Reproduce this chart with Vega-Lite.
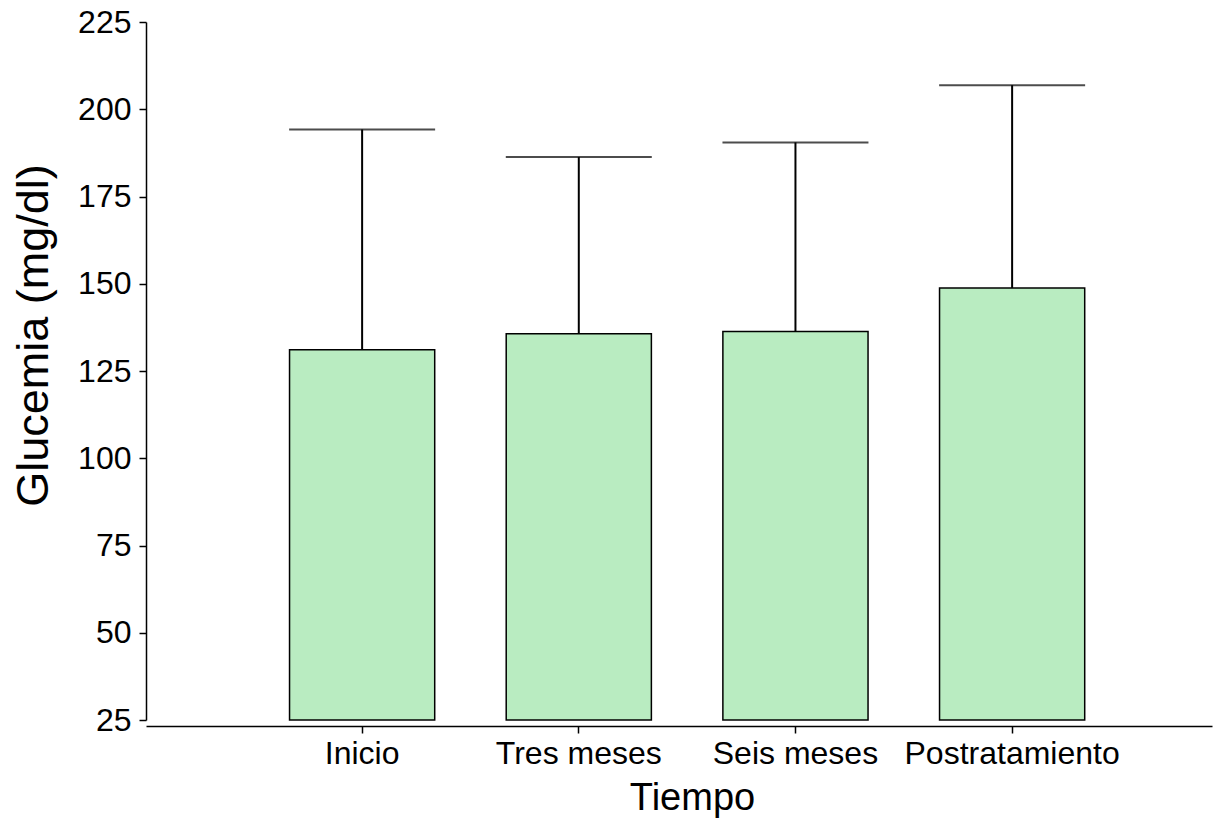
{
  "$schema": "https://vega.github.io/schema/vega-lite/v6.json",
  "width": 1066,
  "height": 698,
  "autosize": {"type": "none"},
  "padding": {"left": 146, "top": 22, "right": 13, "bottom": 103},
  "background": "white",
  "config": {
    "view": {"stroke": null},
    "font": "Liberation Sans",
    "axis": {
      "labelFont": "Liberation Sans",
      "titleFont": "Liberation Sans",
      "labelColor": "black",
      "titleColor": "black",
      "domainColor": "black",
      "tickColor": "black",
      "domainWidth": 1.5,
      "tickWidth": 1.5,
      "grid": false,
      "labelLimit": 0,
      "titleFontWeight": "normal"
    }
  },
  "data": {
    "values": [
      {"tiempo": "Inicio", "media": 131.1, "superior": 194.2},
      {"tiempo": "Tres meses", "media": 135.7, "superior": 186.3},
      {"tiempo": "Seis meses", "media": 136.3, "superior": 190.5},
      {"tiempo": "Postratamiento", "media": 148.8, "superior": 206.9}
    ]
  },
  "encoding": {
    "x": {
      "field": "tiempo",
      "type": "nominal",
      "sort": null,
      "scale": {"paddingInner": 0.33, "paddingOuter": 0.625, "align": 0.53},
      "axis": {
        "title": "Tiempo",
        "labelAngle": 0,
        "labelFontSize": 32,
        "titleFontSize": 38,
        "tickSize": 7,
        "labelPadding": 5,
        "titlePadding": 10,
        "titleX": 546,
        "offset": 6
      }
    }
  },
  "layer": [
    {
      "mark": {"type": "rule", "stroke": "black", "strokeWidth": 2},
      "encoding": {
        "y": {"field": "media", "type": "quantitative"},
        "y2": {"field": "superior"}
      }
    },
    {
      "mark": {"type": "tick", "orient": "horizontal", "color": "black", "thickness": 2, "size": 146},
      "encoding": {
        "y": {"field": "superior", "type": "quantitative"}
      }
    },
    {
      "mark": {"type": "bar", "fill": "#b9ecc1", "stroke": "black", "strokeWidth": 1.5},
      "encoding": {
        "y": {
          "field": "media",
          "type": "quantitative",
          "scale": {"domain": [25, 225], "nice": false, "zero": false},
          "axis": {
            "title": "Glucemia (mg/dl)",
            "values": [25, 50, 75, 100, 125, 150, 175, 200, 225],
            "labelFontSize": 32,
            "titleFontSize": 45,
            "titleBaseline": "alphabetic",
            "titleX": -99,
            "titleY": 313,
            "tickSize": 7,
            "labelPadding": 8
          }
        },
        "y2": {"datum": 25}
      }
    }
  ]
}
